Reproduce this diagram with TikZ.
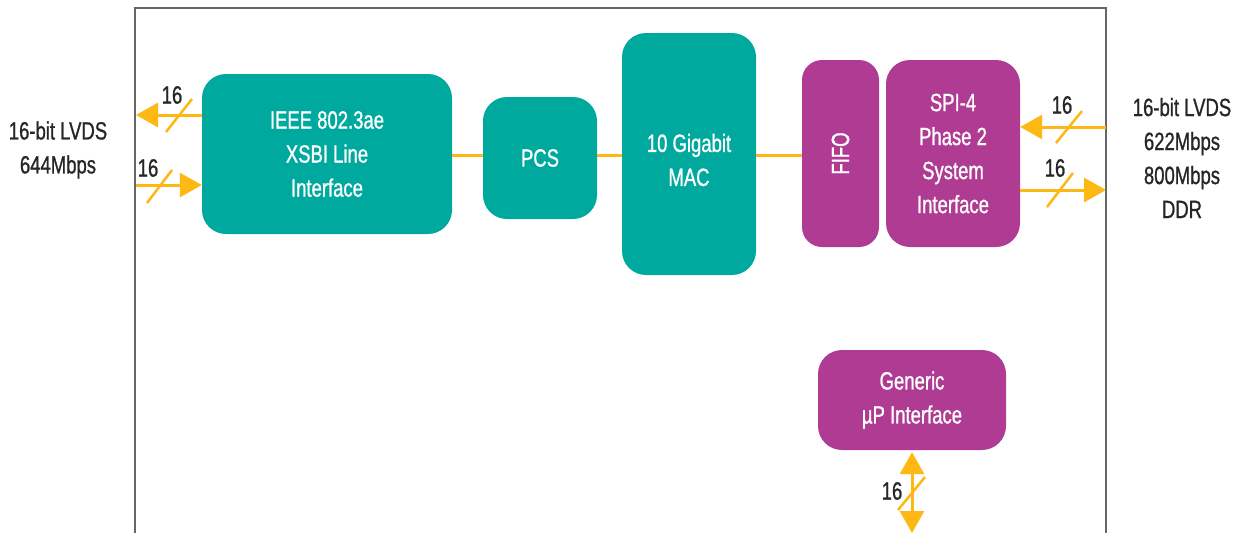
\documentclass[tikz,border=0pt]{standalone}
\usepackage{fontspec}
\setmainfont{Liberation Sans}[FakeStretch=0.74,FakeBold=0.9]
\usetikzlibrary{arrows.meta}
\definecolor{tealbox}{HTML}{00A99E}
\definecolor{magbox}{HTML}{B03B93}
\definecolor{sig}{HTML}{FDB813}
\definecolor{framec}{HTML}{666666}
\begin{document}
\begin{tikzpicture}[x=1pt,y=-1pt,
  blk/.style={rounded corners=24pt, inner sep=0pt, text=white, align=center,
    font=\fontsize{25}{34}\selectfont},
  tblk/.style={blk, fill=tealbox},
  mblk/.style={blk, fill=magbox},
  wire/.style={sig, line width=3pt},
  sarrow/.style={wire, -{Triangle[length=22pt,width=24pt]}},
  darrow/.style={wire, {Triangle[length=22pt,width=24pt]}-{Triangle[length=22pt,width=24pt]}},
  slash/.style={sig, line width=2.5pt},
  lbl/.style={font=\fontsize{25}{34}\selectfont, text=black!85, inner sep=0pt},
  side/.style={font=\fontsize{25}{34}\selectfont, text=black!85, align=center, inner sep=0pt}]
\useasboundingbox (0,0) rectangle (1235,533);
% frame
\draw[framec, line width=2pt] (135,533) -- (135,8) -- (1106,8) -- (1106,533);
% blocks
\node[tblk, minimum width=250pt, minimum height=160pt] (ieee) at (327,154) {IEEE 802.3ae\\XSBI Line\\Interface};
\node[tblk, minimum width=114pt, minimum height=122pt] (pcs) at (540,158) {PCS};
\node[tblk, minimum width=134pt, minimum height=242pt] (mac) at (689,154) {};
\node[blk, text=white] (mactxt) at (689,160) {10 Gigabit\\MAC};
\node[mblk, rounded corners=20pt, minimum width=77pt, minimum height=187pt] (fifo) at (840.5,153.5) {};
\node[blk, rotate=90, font=\fontsize{25}{30}\selectfont] (fifotxt) at (840.5,153.5) {FIFO};
\node[mblk, minimum width=134pt, minimum height=187pt] (spi) at (953,153.5) {SPI-4\\Phase 2\\System\\Interface};
\node[mblk, minimum width=188pt, minimum height=100pt] (gen) at (912,400) {Generic\\µP Interface};
% internal wires
\coordinate (w) at (0,155);
\draw[wire] (ieee.east |- w) -- (pcs.west |- w);
\draw[wire] (pcs.east |- w) -- (mac.west |- w);
\draw[wire] (mac.east |- w) -- (fifo.west |- w);
% left side
\coordinate (lt) at (136,115);
\coordinate (lb) at (136,185);
\draw[sarrow] (ieee.west |- lt) -- (lt);
\draw[sarrow] (lb) -- (ieee.west |- lb);
\draw[slash] (166,132) -- (192,99);
\draw[slash] (147,203) -- (172,170);
\node[lbl] (l16a) at (172,95) {16};
\node[lbl] (l16b) at (148,168) {16};
\node[side] (lside) at (58,150) {16-bit LVDS\\644Mbps};
% right side
\coordinate (rt) at (1106,127);
\coordinate (rb) at (1106,190);
\draw[sarrow] (rt) -- (spi.east |- rt);
\draw[sarrow] (spi.east |- rb) -- (rb);
\draw[slash] (1056,143) -- (1082,111);
\draw[slash] (1047,207) -- (1073,173);
\node[lbl] (r16a) at (1062,105) {16};
\node[lbl] (r16b) at (1055,168) {16};
\node[side] (rside) at (1182,158) {16-bit LVDS\\622Mbps\\800Mbps\\DDR};
% bottom
\coordinate (bb) at (912,533);
\draw[darrow] ([yshift=-2pt]gen.south) -- (bb);
\draw[slash] (898,510) -- (925,477);
\node[lbl] (b16) at (892,491) {16};
\end{tikzpicture}
\end{document}
